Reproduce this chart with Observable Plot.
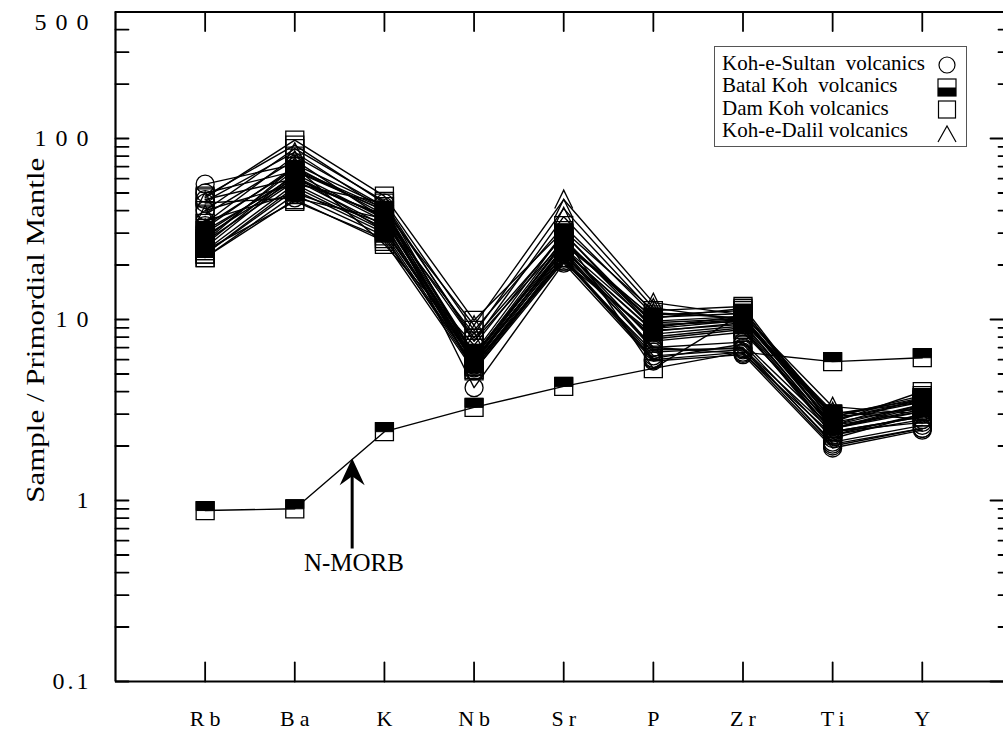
<!DOCTYPE html>
<html><head><meta charset="utf-8">
<script src="https://cdn.jsdelivr.net/npm/d3@7"></script>
<script src="https://cdn.jsdelivr.net/npm/@observablehq/plot@0.6"></script>
<style>
html,body{margin:0;padding:0;background:#fff;overflow:hidden;}
#wrap{position:relative;width:1003px;height:736px;}
#wrap svg text{font-family:"Liberation Serif","Times New Roman",serif !important;}
#legend{position:absolute;left:714px;top:46px;}
#legend text{font-size:21px;white-space:pre;}
</style></head>
<body><div id="wrap"></div>
<script>
// ---- data ----
const elements = ["Rb","Ba","K","Nb","Sr","P","Zr","Ti","Y"];
const yTickLabels = [0.1, 1, 10, 100, 500];
const yMajor = [0.1, 1, 10, 100, 500];
const yMinor = [0.2,0.3,0.4,0.5,0.6,0.7,0.8,0.9,2,3,4,5,6,7,8,9,20,30,40,50,60,70,80,90,200,300,400];
const xDomain = [-1, 8.906];
const yDomain = [0.1, 500];

// Koh-e-Sultan volcanics (circles)
const kohESultan = [
  [56, 72, 42, 4.2, 20.5, 5.9, 6.4, 1.95, 2.45],
  [50, 66, 40, 5.6, 22, 6.3, 6.8, 2.1, 2.6],
  [46, 60, 37, 5.2, 21, 6.6, 7.0, 2.05, 2.5],
  [40, 56, 44, 5.9, 23, 7.0, 6.5, 2.3, 2.8],
  [35, 50, 34, 5.4, 22, 6.1, 7.3, 2.2, 3.0],
  [30, 62, 31, 6.0, 24, 6.8, 6.9, 2.4, 2.7],
  [44, 47, 36, 5.7, 21.5, 6.0, 6.6, 2.0, 2.5],
  [33, 68, 41, 6.3, 25, 7.0, 7.5, 2.5, 3.1]
];
// Batal Koh volcanics (half-filled squares)
const batalKoh = [
  [22, 46, 27, 5.2, 22, 8.0, 9.0, 2.3, 3.0],
  [23, 52, 30, 5.5, 24, 8.6, 9.6, 2.5, 3.2],
  [24, 56, 32, 5.7, 25, 9.2, 10.0, 2.6, 3.4],
  [25, 62, 35, 6.1, 27, 9.8, 10.4, 2.8, 3.6],
  [26, 64, 36, 6.3, 28, 8.9, 9.9, 2.7, 3.3],
  [22, 49, 29, 5.3, 23, 7.8, 8.8, 2.4, 2.9],
  [27, 58, 38, 6.4, 26, 10.3, 10.8, 2.9, 3.7],
  [28, 67, 40, 6.5, 30, 9.4, 9.7, 3.0, 3.5],
  [24, 45, 28, 5.6, 21, 8.3, 9.2, 2.4, 2.9],
  [29, 59, 33, 5.8, 25, 7.6, 8.5, 2.6, 3.1],
  [23, 54, 31, 6.0, 24, 8.7, 9.4, 2.5, 3.3],
  [31, 60, 37, 5.9, 27, 9.6, 10.1, 2.8, 3.5]
];
// Dam Koh volcanics (open squares)
const damKoh = [
  [47, 98, 48, 9.9, 31, 11.2, 11.8, 2.7, 4.0],
  [40, 88, 45, 8.7, 33, 10.6, 11.2, 2.9, 3.8],
  [34, 80, 42, 7.9, 29, 5.35, 10.8, 3.0, 3.6],
  [27, 70, 26, 7.2, 30, 9.0, 10.5, 2.6, 3.7],
  [48, 92, 44, 7.6, 27, 10.2, 11.5, 2.5, 3.4]
];
// Koh-e-Dalil volcanics (open carets)
const kohEDalil = [
  [45, 84, 40, 9.3, 46, 12.4, 10.6, 3.3, 3.0],
  [38, 76, 36, 8.3, 41, 11.6, 9.9, 3.1, 2.8],
  [32, 70, 38, 7.6, 37, 10.9, 10.2, 2.9, 3.2]
];
// N-MORB (line through all elements; markers only where drawn in the figure)
const nMorb = [0.88, 0.9, 2.4, 3.27, 4.27, 5.37, 6.6, 5.85, 6.15];
const nMorbMarked = [true, true, true, true, true, false, false, true, true];

// annotation
const annotText = ["N-MORB"];
const annotX = [1.64];
const annotTipY = [1.71];
const annotTailY = [0.543];
const annotTextX = [1.66];
const annotTextY = [0.41];
const yTitle = "Sample / Primordial Mantle";

// ---- symbols ----
const R = (size) => Math.sqrt(size / Math.PI);
const symCircle = {draw(c, s){ const r = R(s); c.moveTo(r, 0); c.arc(0, 0, r, 0, 2*Math.PI); c.closePath(); }};
const symSquare = {draw(c, s){ const r = R(s); c.rect(-r, -r, 2*r, 2*r); }};
const symTopHalf = {draw(c, s){ const r = R(s); c.rect(-r, -r, 2*r, r); }};
const symCaret = {draw(c, s){ const r = R(s); c.moveTo(-r, r); c.lineTo(0, -r*1.05); c.lineTo(r, r); }};
const symArrowHead = {draw(c, s){ const k = R(s)/9; c.moveTo(0, 0); c.lineTo(12.5*k, 27*k); c.lineTo(0, 18*k); c.lineTo(-12.5*k, 27*k); c.closePath(); }};
const tickShape = {draw(c, l){ c.moveTo(0, 0); c.lineTo(0, -l); }};

// ---- rows ----
function toRows(arr, key){
  const out = [];
  arr.forEach((s, j) => s.forEach((v, i) => out.push({id: key + j, i, v})));
  return out;
}
const rSultan = toRows(kohESultan, "s");
const rBatal = toRows(batalKoh, "b");
const rDam = toRows(damKoh, "d");
const rDalil = toRows(kohEDalil, "t");
const rMorb = toRows([nMorb], "m");
const rMorbMarked = rMorb.filter(d => nMorbMarked[d.i]);
const allRows = [...rSultan, ...rBatal, ...rDam, ...rDalil, ...rMorb];

const serif = '"Liberation Serif", serif';
const mk = {r: 9, stroke: "black", strokeWidth: 1.3, fill: "none"};
const topLabel = yTickLabels.filter(d => d === yDomain[1]);
const otherLabels = yTickLabels.filter(d => d !== yDomain[1]);
const yLabOpts = {y: d => d, text: d => String(d), frameAnchor: "left", textAnchor: "end", dx: -18, fontSize: 24, fontFamily: serif, fill: "black"};
const plot = Plot.plot({
  width: 1003, height: 736,
  marginLeft: 115, marginRight: 0, marginTop: 11.5, marginBottom: 55,
  style: {fontFamily: serif, background: "white", color: "black"},
  x: {domain: xDomain, axis: null},
  y: {type: "log", domain: yDomain, axis: null},
  marks: [
    Plot.line(allRows, {x: "i", y: "v", z: "id", stroke: "black", strokeWidth: 1.4}),
    Plot.dot(rSultan, {x: "i", y: "v", symbol: symCircle, ...mk}),
    Plot.dot(rDam, {x: "i", y: "v", symbol: symSquare, ...mk}),
    Plot.dot([...rBatal, ...rMorbMarked], {x: "i", y: "v", symbol: symSquare, ...mk}),
    Plot.dot([...rBatal, ...rMorbMarked], {x: "i", y: "v", symbol: symTopHalf, r: 9, fill: "black", stroke: "black", strokeWidth: 1}),
    Plot.dot(rDalil, {x: "i", y: "v", symbol: symCaret, ...mk}),
    // annotation arrow
    Plot.link(annotX, {x1: d => d, x2: d => d, y1: annotTailY, y2: annotTipY.map(v => v * 0.93), stroke: "black", strokeWidth: 3}),
    Plot.dot(annotX, {x: d => d, y: annotTipY, symbol: symArrowHead, r: 9, fill: "black", stroke: "none"}),
    Plot.text(annotText, {x: annotTextX, y: annotTextY, text: d => d, fontSize: 25, fontFamily: serif, lineAnchor: "bottom", fill: "black"}),
    // frame (left, top, bottom)
    Plot.ruleX([xDomain[0]], {stroke: "black", strokeWidth: 2.2}),
    Plot.ruleY([yDomain[0], yDomain[1]], {stroke: "black", strokeWidth: 2.2}),
    // ticks
    Plot.vector([...yMajor, ...yMinor], {y: d => d, frameAnchor: "left", rotate: 90, length: 13, anchor: "start", shape: tickShape, stroke: "black", strokeWidth: 1.8}),
    Plot.vector(yMajor, {y: d => d, frameAnchor: "right", rotate: -90, length: 13, anchor: "start", shape: tickShape, stroke: "black", strokeWidth: 1.8}),
    Plot.vector(yMinor, {y: d => d, frameAnchor: "right", rotate: -90, length: 5, anchor: "start", shape: tickShape, stroke: "black", strokeWidth: 1.8}),
    Plot.vector(elements, {x: (d, i) => i, frameAnchor: "bottom", rotate: 0, length: 19, anchor: "start", shape: tickShape, stroke: "black", strokeWidth: 1.8}),
    Plot.vector(elements, {x: (d, i) => i, frameAnchor: "top", rotate: 180, length: 19, anchor: "start", shape: tickShape, stroke: "black", strokeWidth: 1.8}),
    // tick labels
    Plot.text(otherLabels, yLabOpts),
    Plot.text(topLabel, {...yLabOpts, dy: 10}),
    Plot.text(elements, {x: (d, i) => i, text: d => d, frameAnchor: "bottom", dy: 44, dx: 2.5, fontSize: 22, fontFamily: serif, fill: "black"}),
    Plot.text([yTitle], {text: d => d, frameAnchor: "left", dx: -80, dy: 156, rotate: -90, textAnchor: "start", fontSize: 26, fontFamily: serif, fill: "black"})
  ]
});
document.getElementById("wrap").appendChild(plot);
const svg = d3.select(plot);
const yLabSet = new Set(yTickLabels.map(String));
const xLabSet = new Set(elements);
svg.selectAll("text").each(function(){
  const t = this.textContent;
  const s = d3.select(this);
  if (t === yTitle) s.attr("textLength", 345).attr("lengthAdjust", "spacingAndGlyphs");
  else if (t === "0.1") s.style("letter-spacing", "3px").attr("dx", -6);
  else if (yLabSet.has(t)) s.style("letter-spacing", "9px");
  else if (xLabSet.has(t)) s.style("letter-spacing", "5px");
});

// ---- legend ----
const legendItems = ["Koh-e-Sultan  volcanics", "Batal Koh  volcanics", "Dam Koh volcanics", "Koh-e-Dalil volcanics"];
const lg = d3.select("#wrap").append("svg").attr("id", "legend").attr("width", 253).attr("height", 102);
lg.append("rect").attr("x", 0.5).attr("y", 0.5).attr("width", 252).attr("height", 100).attr("fill", "white").attr("stroke", "#555").attr("stroke-width", 1);
legendItems.forEach((t, k) => {
  lg.append("text").attr("x", 8).attr("y", 24 + k * 22.3).text(t);
});
const sx = 233;
lg.append("circle").attr("cx", sx).attr("cy", 19).attr("r", 8).attr("fill", "none").attr("stroke", "black").attr("stroke-width", 1.2);
lg.append("rect").attr("x", sx - 9).attr("y", 33).attr("width", 18).attr("height", 17).attr("fill", "none").attr("stroke", "black").attr("stroke-width", 1.2);
lg.append("rect").attr("x", sx - 9).attr("y", 41.5).attr("width", 18).attr("height", 8.5).attr("fill", "black");
lg.append("rect").attr("x", sx - 8.5).attr("y", 55).attr("width", 17).attr("height", 17).attr("fill", "none").attr("stroke", "black").attr("stroke-width", 1.2);
lg.append("path").attr("d", `M${sx-9},96 L${sx},80 L${sx+9},96`).attr("fill", "none").attr("stroke", "black").attr("stroke-width", 1.2);
</script>
</body></html>
